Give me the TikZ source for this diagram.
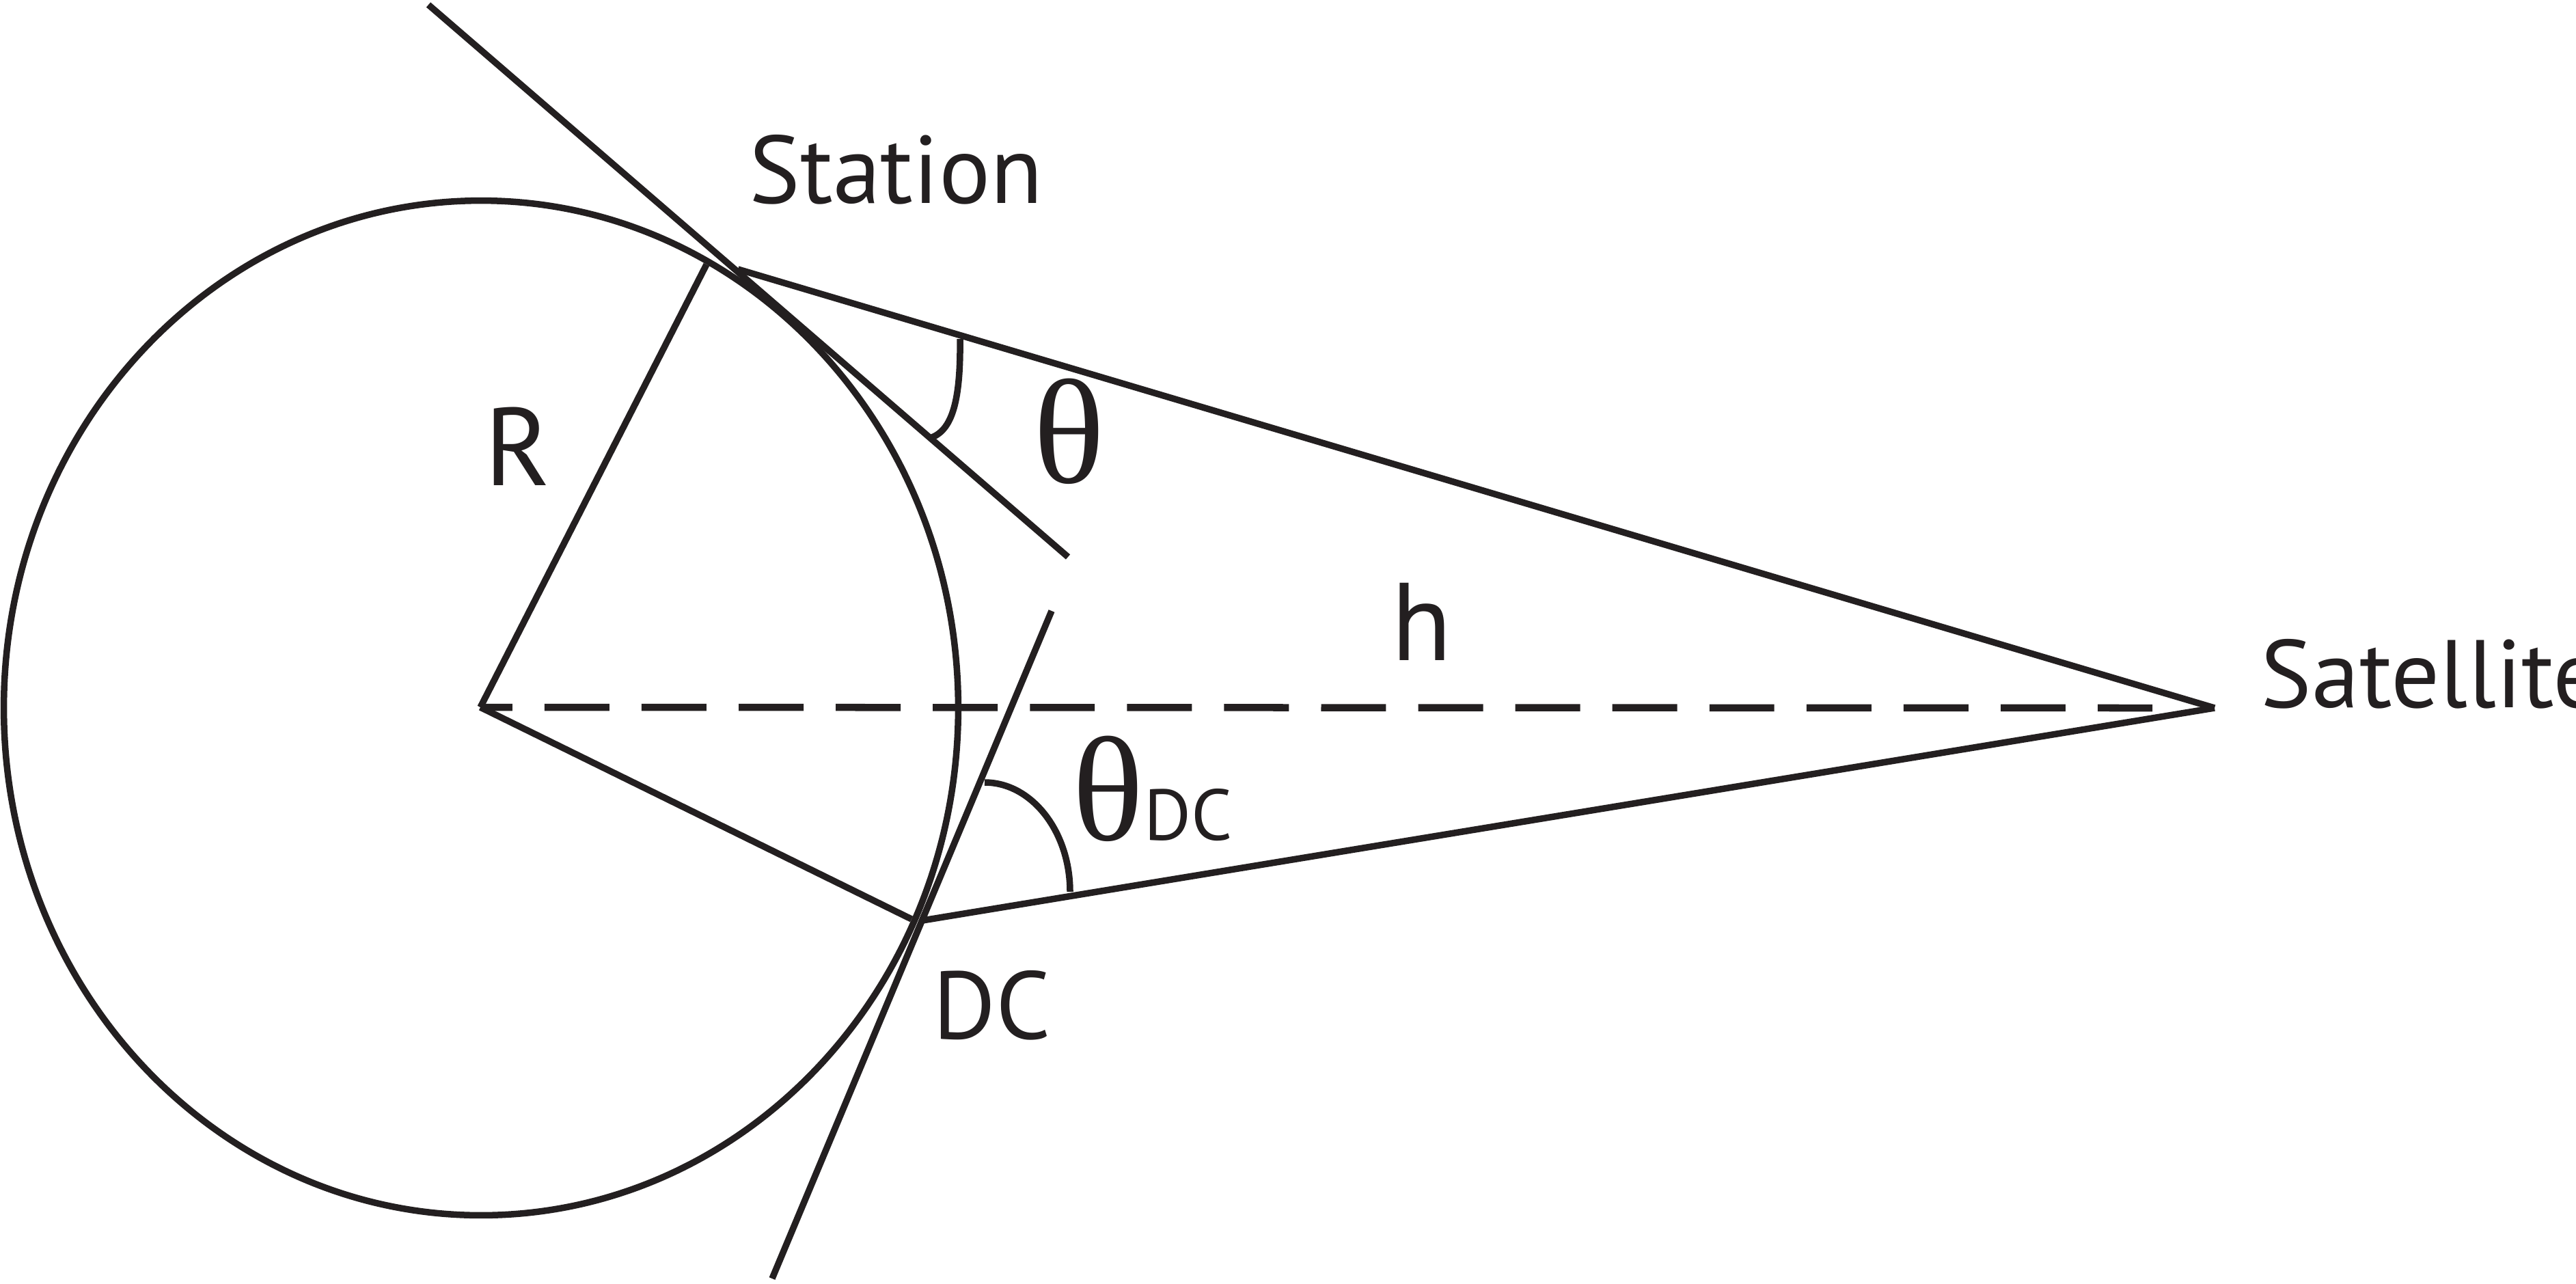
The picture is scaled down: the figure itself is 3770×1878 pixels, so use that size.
\documentclass[tikz,border=0pt]{standalone}
\usepackage{fontspec}
\setmainfont{PT Sans}
\newfontfamily\greekfont{Liberation Serif}
\definecolor{ink}{RGB}{35,31,32}

\begin{document}
\begin{tikzpicture}[
    x=0.01cm, y=-0.01cm,
    every node/.style={inner sep=0pt, text=ink, font=\fontsize{40}{48}\selectfont},
    edge/.style={draw=ink, line width=0.095cm},
    axis/.style={draw=ink, line width=0.105cm, dash pattern=on 27pt off 13.4pt, dash phase=13.7pt},
    tag/.style={anchor=base west},
    bigtag/.style={anchor=base west, font=\fontsize{46}{54}\selectfont},
    greek/.style={anchor=base west, font=\greekfont\fontsize{62}{70}\selectfont}
]
\useasboundingbox (0,0) rectangle (3770,1878);

% Points
\coordinate (earth) at (704,1036);
\coordinate (centre) at (703,1035);
\coordinate (station) at (1080,394);
\coordinate (rtop) at (1034,387);
\coordinate (dc) at (1350,1347);
\coordinate (rdc) at (1334,1345);
\coordinate (satellite) at (3241,1036);
\coordinate (hend) at (3150,1036);
\coordinate (tanA) at (627,7);
\coordinate (tanB) at (1563,815);
\coordinate (dctanA) at (1539,894);
\coordinate (dctanB) at (1130,1871);
\coordinate (thA) at (1405,496);
\coordinate (thB) at (1364,640);
\coordinate (dcA) at (1441,1145);
\coordinate (dcB) at (1566,1305);

% Earth
\draw[edge] (earth) ellipse [x radius=6.98cm, y radius=7.42cm];

% Lines
\draw[axis] (centre) -- (hend);
\draw[edge] (centre) -- (rtop);
\draw[edge] (centre) -- (rdc);
\draw[edge] (tanA) -- (tanB);
\draw[edge] (dctanA) -- (dctanB);
\draw[edge] (station) -- (satellite);
\draw[edge] (dc) -- (satellite);

% Angles
\draw[edge] (thA) .. controls (1406,585) and (1394,628) .. (thB);
\draw[edge] (dcA) .. controls (1510,1145) and (1566,1217) .. (dcB);

% Labels
\node[tag] (lstation) at (1096,297) {Station};
\node[bigtag] (lr) at (709,710) {R};
\node[bigtag] (lh) at (2036,966) {h};
\node[tag] (lsat) at (3308,1035) {Satellite};
\node[tag] (ldc) at (1365,1520) {DC};
\node[greek] (ltheta) at (1512,706) {θ};
\node[greek] (lthetadc) at (1569,1229) {θ\fontsize{30}{34}\fontspec{PT Sans}DC};

\end{tikzpicture}
\end{document}
